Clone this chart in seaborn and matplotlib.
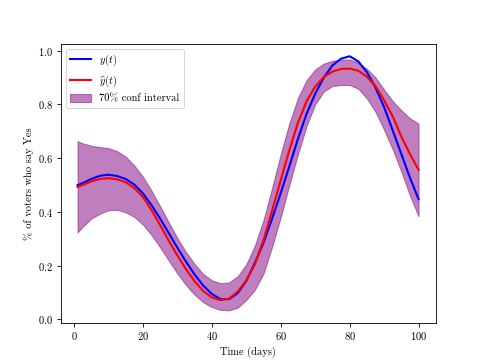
"""Poll trajectory with estimated curve and confidence band."""

import matplotlib

matplotlib.use("Agg")
import matplotlib.pyplot as plt
import pandas as pd
import seaborn as sns

days = [1, 2.5, 5, 7.5, 10, 12.5, 15, 17.5, 20, 22.5, 25, 27.5, 30, 32.5, 35, 37.5, 40,
        42.5, 45, 47.5, 50, 52.5, 55, 57.5, 60, 62.5, 65, 67.5, 70, 72.5, 75, 77.5, 80,
        82.5, 85, 87.5, 90, 92.5, 95, 97.5, 100]
# y(t): actual share
true_share = [0.499, 0.507, 0.522, 0.534, 0.538, 0.533, 0.522, 0.501, 0.468, 0.424,
              0.374, 0.320, 0.266, 0.214, 0.166, 0.125, 0.094, 0.075, 0.075, 0.097,
              0.143, 0.210, 0.285, 0.375, 0.470, 0.570, 0.672, 0.765, 0.840, 0.900,
              0.945, 0.970, 0.979, 0.960, 0.920, 0.862, 0.790, 0.703, 0.615, 0.527, 0.447]
# y-hat(t): estimate
est_share = [0.492, 0.500, 0.513, 0.522, 0.525, 0.521, 0.510, 0.488, 0.455, 0.406,
             0.350, 0.292, 0.237, 0.186, 0.141, 0.105, 0.081, 0.071, 0.077, 0.103,
             0.145, 0.205, 0.295, 0.405, 0.518, 0.630, 0.732, 0.812, 0.866, 0.902,
             0.922, 0.932, 0.933, 0.925, 0.903, 0.868, 0.815, 0.755, 0.680, 0.615, 0.556]
# 70% interval
ci_lower = [0.323, 0.344, 0.375, 0.393, 0.406, 0.407, 0.398, 0.381, 0.352, 0.313,
            0.267, 0.218, 0.170, 0.127, 0.091, 0.063, 0.045, 0.035, 0.033, 0.043,
            0.072, 0.110, 0.170, 0.270, 0.380, 0.500, 0.615, 0.720, 0.800, 0.848,
            0.868, 0.872, 0.872, 0.858, 0.822, 0.772, 0.705, 0.632, 0.550, 0.460, 0.383]
ci_upper = [0.663, 0.655, 0.646, 0.641, 0.637, 0.626, 0.605, 0.572, 0.530, 0.478,
            0.420, 0.360, 0.302, 0.250, 0.205, 0.168, 0.145, 0.134, 0.137, 0.160,
            0.205, 0.275, 0.370, 0.490, 0.615, 0.730, 0.825, 0.890, 0.930, 0.952,
            0.962, 0.966, 0.967, 0.955, 0.932, 0.900, 0.855, 0.812, 0.778, 0.748, 0.728]

df = pd.DataFrame({"day": days, "y": true_share, "yhat": est_share,
                   "lo": ci_lower, "hi": ci_upper})

plt.rcParams["font.family"] = "cmr10"
plt.rcParams["mathtext.fontset"] = "cm"
plt.rcParams["axes.formatter.use_mathtext"] = True

fig, ax = plt.subplots(figsize=(6.4, 4.8), dpi=75.625)
sns.lineplot(data=df, x="day", y="y", ax=ax, color="blue", lw=2, label=r"$y(t)$")
sns.lineplot(data=df, x="day", y="yhat", ax=ax, color="red", lw=2,
             label=r"$\widehat{y}(t)$")
ax.fill_between(df["day"], df["lo"], df["hi"], color="purple", alpha=0.5,
                label="70% conf interval")
ax.set_xlabel("Time (days)")
ax.set_ylabel("% of voters who say Yes")
ax.set_yticks([0.0, 0.2, 0.4, 0.6, 0.8, 1.0])
ax.legend(loc="upper left")
fig.savefig("out.png", dpi=75.625)
